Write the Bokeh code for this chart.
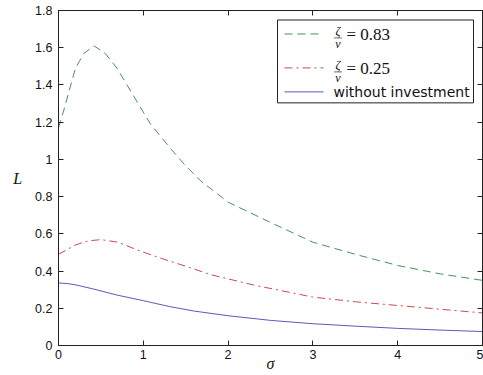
from bokeh.plotting import figure
from bokeh.models import Range1d, LinearAxis, Label, BoxAnnotation, FixedTicker, CustomJSTickFormatter
from bokeh.embed import file_html
from bokeh.resources import INLINE

# ---- data ----
sigma_a = [0, 0.06, 0.2, 0.3, 0.42, 0.55, 0.69, 0.9, 1.085, 1.3, 1.48, 1.675, 2.0, 2.46, 3.0, 3.5, 4.0, 4.5, 5.0]
L_a = [1.17, 1.26, 1.49, 1.57, 1.61, 1.57, 1.49, 1.33, 1.19, 1.07, 0.975, 0.885, 0.77, 0.67, 0.555, 0.49, 0.43, 0.385, 0.35]

sigma_b = [0, 0.2, 0.35, 0.5, 0.7, 0.95, 1.2, 1.54, 1.8, 2.3, 3.0, 3.5, 4.0, 4.5, 5.0]
L_b = [0.49, 0.54, 0.562, 0.569, 0.555, 0.51, 0.47, 0.42, 0.38, 0.325, 0.26, 0.235, 0.215, 0.195, 0.175]

sigma_c = [0, 0.1, 0.2, 0.4, 0.7, 1.0, 1.3, 1.6, 2.0, 2.5, 3.0, 3.5, 4.0, 4.5, 5.0]
L_c = [0.336, 0.333, 0.326, 0.305, 0.27, 0.241, 0.21, 0.185, 0.16, 0.135, 0.117, 0.104, 0.092, 0.083, 0.075]

labels = ["= 0.83", "= 0.25", "without investment"]
x_ticks = [0, 1, 2, 3, 4, 5]
y_ticks = [0, 0.2, 0.4, 0.6, 0.8, 1.0, 1.2, 1.4, 1.6, 1.8]
y_tick_labels = ["0", "0.2", "0.4", "0.6", "0.8", "1", "1.2", "1.4", "1.6", "1.8"]

GREEN = "#4a9155"
RED = "#d0474a"
BLUE = "#5a5ab8"
AX = "#222222"

p = figure(width=483, height=375, output_backend="svg", toolbar_location=None,
           x_range=Range1d(0, 5), y_range=Range1d(0, 1.8),
           min_border_left=58, min_border_right=1, min_border_top=10, min_border_bottom=30,
           x_axis_label="σ", y_axis_label="L")
p.background_fill_color = "white"
p.border_fill_color = "white"
p.xgrid.visible = False
p.ygrid.visible = False
p.outline_line_color = AX
p.outline_line_width = 1

p.line(sigma_a, L_a, line_color=GREEN, line_width=1, line_dash="8 5")
p.line(sigma_b, L_b, line_color=RED, line_width=1, line_dash="8 4 2 4")
p.line(sigma_c, L_c, line_color=BLUE, line_width=1)

def style_axis(ax):
    ax.axis_line_color = AX
    ax.major_tick_line_color = AX
    ax.major_tick_in = 5
    ax.major_tick_out = 0
    ax.minor_tick_line_color = None
    ax.major_label_text_font = "Liberation Sans"
    ax.major_label_text_font_size = "12.5px"
    ax.major_label_text_color = "#111111"
    ax.axis_label_text_font = "Liberation Serif"
    ax.axis_label_text_font_style = "italic"
    ax.axis_label_text_font_size = "16px"
    ax.axis_label_text_color = "#111111"

xa = p.xaxis[0]
style_axis(xa)
xa.ticker = FixedTicker(ticks=x_ticks)
xa.major_label_standoff = 4
xa.axis_label_standoff = -7

ya = p.yaxis[0]
style_axis(ya)
ya.ticker = FixedTicker(ticks=y_ticks)
ya.major_label_overrides = {t: s for t, s in zip(y_ticks, y_tick_labels)}
ya.major_label_standoff = 6
ya.axis_label_standoff = 10
ya.axis_label_orientation = "horizontal"

empty = CustomJSTickFormatter(code="return ''")
ra = LinearAxis(ticker=FixedTicker(ticks=y_ticks), formatter=empty)
style_axis(ra)
ra.major_label_standoff = 0
p.add_layout(ra, "right")
ta = LinearAxis(ticker=FixedTicker(ticks=x_ticks), formatter=empty)
style_axis(ta)
ta.major_label_standoff = 0
p.add_layout(ta, "above")

# ---- legend (drawn by hand so the fraction can be stacked) ----
FX0, FX1, FYT, FYB = 58.0, 482.0, 9.5, 345.0
def dx(px):
    return (px - FX0) / (FX1 - FX0) * 5.0
def dy(py):
    return (FYB - py) / (FYB - FYT) * 1.8

p.add_layout(BoxAnnotation(left=dx(277), right=dx(473), top=dy(19), bottom=dy(102),
                           fill_color="white", fill_alpha=1.0, line_color=AX, line_width=1,
                           line_alpha=1.0, level="annotation"))

rows = [33, 67, 91]
styles = [(GREEN, "8 5"), (RED, "8 4 2 4"), (BLUE, "solid")]
for py, (col, dash) in zip(rows, styles):
    p.line([dx(284), dx(323)], [dy(py), dy(py)], line_color=col, line_width=1,
           line_dash=dash, level="overlay")

for py in rows[:2]:
    p.add_layout(Label(x=dx(337.5), y=dy(py - 3), text="ζ", text_font="Liberation Serif",
                       text_font_style="italic", text_font_size="12px", text_align="center",
                       text_baseline="middle", text_color="#111111"))
    p.add_layout(Label(x=dx(337.5), y=dy(py + 10), text="ν", text_font="Liberation Serif",
                       text_font_style="italic", text_font_size="12px", text_align="center",
                       text_baseline="middle", text_color="#111111"))
    p.line([dx(333.5), dx(341.5)], [dy(py + 4), dy(py + 4)], line_color="#333333",
           line_width=0.7, level="overlay")

for py, lab in zip(rows[:2], labels[:2]):
    p.add_layout(Label(x=dx(346), y=dy(py + 1), text=lab, text_font="Liberation Serif",
                       text_font_size="17px", text_align="left", text_baseline="middle",
                       text_color="#111111"))
p.add_layout(Label(x=dx(333), y=dy(91), text=labels[2], text_font="DejaVu Sans",
                   text_font_size="14px", text_align="left", text_baseline="middle",
                   text_color="#111111"))

open("out.html", "w").write(file_html(p, INLINE))
